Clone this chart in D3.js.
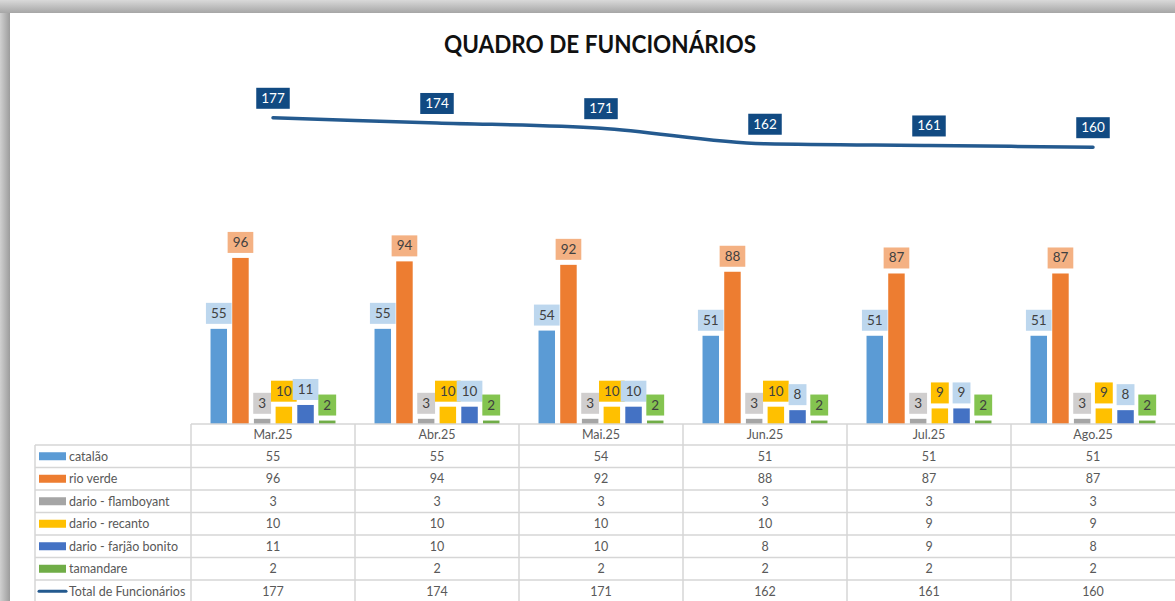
<html>
<head>
<meta charset="utf-8">
<style>
  body { margin: 0; background: #fff; }
  svg { display: block; font-family: Lato, "Open Sans", sans-serif; }
  .cell text { fill: #595959; font-size: 12.5px; }
  .grid line { stroke: #d6d6d6; stroke-width: 1.5; }
</style>
</head>
<body>
<svg width="1175" height="601"></svg>
<script src="https://d3js.org/d3.v7.min.js"></script>
<script>
// data
let months = ["Mar.25", "Abr.25", "Mai.25", "Jun.25", "Jul.25", "Ago.25"]
let seriesNames = ["catalão", "rio verde", "dario - flamboyant", "dario - recanto", "dario - farjão bonito", "tamandare"]
let catalao = [55, 55, 54, 51, 51, 51]
let rioVerde = [96, 94, 92, 88, 87, 87]
let flamboyant = [3, 3, 3, 3, 3, 3]
let recanto = [10, 10, 10, 10, 9, 9]
let farjao = [11, 10, 10, 8, 9, 8]
let tamandare = [2, 2, 2, 2, 2, 2]
let totalName = "Total de Funcionários"
let total = [177, 174, 171, 162, 161, 160]

let barColors = ["#5b9bd5", "#ed7d31", "#a5a5a5", "#ffc000", "#4472c4", "#70ad47"]
let boxColors = ["#bdd7ee", "#f4b183", "#d0cece", "#ffc000", "#bdd7ee", "#84c450"]
let lineColor = "#245a8f"
let lineBox = "#114a82"

let values = [catalao, rioVerde, flamboyant, recanto, farjao, tamandare]

let svg = d3.select("svg")
let W = 1175, H = 601

// frame shadow
let defs = svg.append("defs")
let gt = defs.append("linearGradient").attr("id", "gt").attr("x1", 0).attr("y1", 0).attr("x2", 0).attr("y2", 1)
gt.append("stop").attr("offset", "0%").attr("stop-color", "#d9d9d9")
gt.append("stop").attr("offset", "100%").attr("stop-color", "#a6a6a6")
let gl = defs.append("linearGradient").attr("id", "gl").attr("x1", 0).attr("y1", 0).attr("x2", 1).attr("y2", 0)
gl.append("stop").attr("offset", "0%").attr("stop-color", "#d0d0d0")
gl.append("stop").attr("offset", "100%").attr("stop-color", "#9c9c9c")
svg.append("rect").attr("x", 0).attr("y", 0).attr("width", 10).attr("height", H).attr("fill", "url(#gl)")
svg.append("rect").attr("x", 0).attr("y", 0).attr("width", W).attr("height", 13).attr("fill", "url(#gt)")

// title
svg.append("text")
  .attr("x", 600).attr("y", 53)
  .attr("text-anchor", "middle")
  .attr("font-weight", "bold")
  .attr("font-size", 25)
  .attr("textLength", 312)
  .attr("lengthAdjust", "spacingAndGlyphs")
  .attr("fill", "#111")
  .text("QUADRO DE FUNCIONÁRIOS")

// scales
let baseline = 424
let x = d3.scaleBand().domain(months).range([191, 1175])
let xs = d3.scaleBand().domain(seriesNames).range([0, x.bandwidth()]).paddingInner(0.24).paddingOuter(0.9)
let y = d3.scaleLinear().domain([0, 200]).range([baseline, 78])

// bars
let barData = []
seriesNames.forEach((s, i) => {
  months.forEach((m, j) => barData.push({s: s, i: i, m: m, v: values[i][j]}))
})

svg.append("g").selectAll("rect")
  .data(barData)
  .join("rect")
  .attr("x", d => x(d.m) + xs(d.s))
  .attr("y", d => y(d.v))
  .attr("width", xs.bandwidth())
  .attr("height", d => baseline - y(d.v))
  .attr("fill", d => barColors[d.i])

// bar labels
let lab = svg.append("g").selectAll("g")
  .data(barData)
  .join("g")
  .attr("transform", d => `translate(${x(d.m) + xs(d.s) + xs.bandwidth() / 2}, ${y(d.v) - 5})`)
let labBox = lab.append("rect").attr("fill", d => boxColors[d.i])
let labText = lab.append("text")
  .attr("text-anchor", "middle")
  .attr("y", -6)
  .attr("font-size", 13.5)
  .attr("fill", "#404040")
  .text(d => d.v)
labText.each(function (d) { d.tw = this.getComputedTextLength() })
labBox.attr("x", d => -(d.tw + 10) / 2).attr("width", d => d.tw + 10).attr("y", -21).attr("height", 21)

// total line
let line = d3.line()
  .x((d, j) => x(months[j]) + x.bandwidth() / 2)
  .y(d => y(d))
  .curve(d3.curveMonotoneX)

svg.append("path")
  .attr("d", line(total))
  .attr("fill", "none")
  .attr("stroke", lineColor)
  .attr("stroke-width", 3.5)
  .attr("stroke-linecap", "round")

let tl = svg.append("g").selectAll("g")
  .data(total)
  .join("g")
  .attr("transform", (d, j) => `translate(${x(months[j]) + x.bandwidth() / 2}, ${y(d) - 9})`)
let tlBox = tl.append("rect").attr("fill", lineBox)
let tlText = tl.append("text")
  .attr("text-anchor", "middle")
  .attr("y", -6)
  .attr("font-size", 13.5)
  .attr("fill", "#fff")
  .text(d => d)
tlText.each(function (d, j) { total["w" + j] = this.getComputedTextLength() })
tlBox.attr("x", (d, j) => -(total["w" + j] + 10) / 2).attr("width", (d, j) => total["w" + j] + 10).attr("y", -21).attr("height", 21)

// data table
let rows = seriesNames.concat([totalName])
let rowVals = values.concat([total])
let headTop = baseline, headBot = 445
let rowY = d3.scaleBand().domain(rows).range([headBot, headBot + rows.length * 22.5])
let tableLeft = 35, tableRight = 1175
let grid = svg.append("g").attr("class", "grid")

grid.append("line").attr("x1", x.range()[0]).attr("x2", tableRight).attr("y1", headTop).attr("y2", headTop)
grid.selectAll(".h")
  .data(rows.concat(["end"]))
  .join("line")
  .attr("x1", tableLeft).attr("x2", tableRight)
  .attr("y1", (d, i) => headBot + i * rowY.bandwidth())
  .attr("y2", (d, i) => headBot + i * rowY.bandwidth())
grid.append("line").attr("x1", tableLeft).attr("x2", tableLeft).attr("y1", headBot).attr("y2", H)
grid.selectAll(".v")
  .data(months)
  .join("line")
  .attr("x1", d => x(d)).attr("x2", d => x(d))
  .attr("y1", headTop).attr("y2", H)

let cells = svg.append("g").attr("class", "cell")
cells.selectAll(".mh")
  .data(months)
  .join("text")
  .attr("x", d => x(d) + x.bandwidth() / 2)
  .attr("y", (headTop + headBot) / 2 + 4.5)
  .attr("text-anchor", "middle")
  .text(d => d)

rows.forEach((r, i) => {
  let cy = rowY(r) + rowY.bandwidth() / 2
  if (i < seriesNames.length) {
    cells.append("rect").attr("x", 39).attr("y", cy - 4).attr("width", 27).attr("height", 8).attr("fill", barColors[i])
  } else {
    cells.append("line").attr("x1", 39).attr("x2", 66).attr("y1", cy).attr("y2", cy)
      .attr("stroke", lineColor).attr("stroke-width", 3).attr("stroke-linecap", "round")
  }
  cells.append("text").attr("x", 69).attr("y", cy + 4.5).text(r)
  cells.selectAll(null)
    .data(rowVals[i])
    .join("text")
    .attr("x", (d, j) => x(months[j]) + x.bandwidth() / 2)
    .attr("y", cy + 4.5)
    .attr("text-anchor", "middle")
    .text(d => d)
})
</script>
</body>
</html>
